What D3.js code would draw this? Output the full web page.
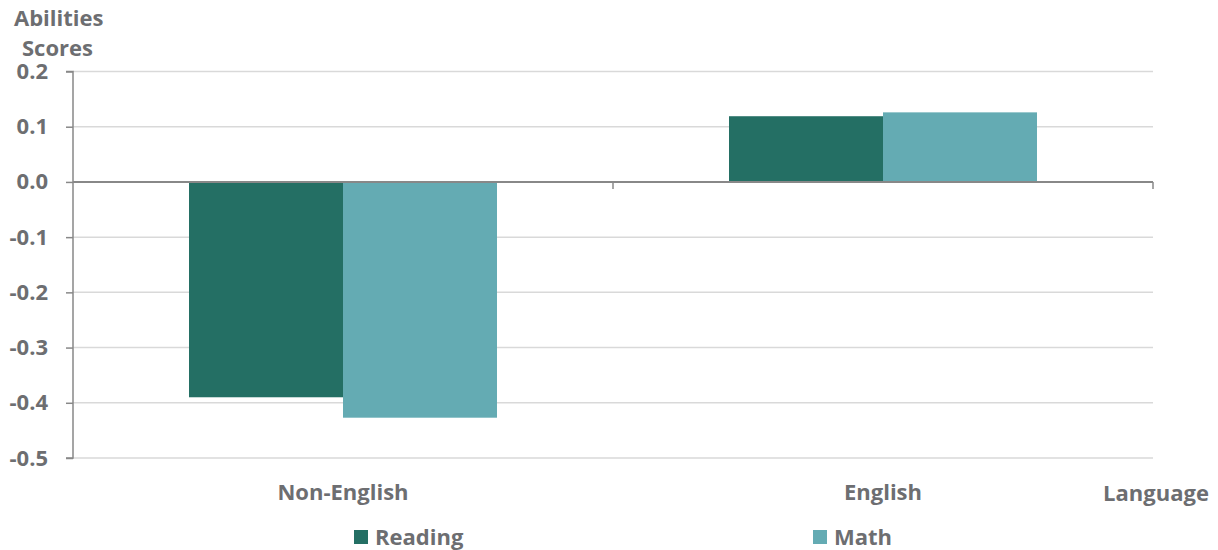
<!DOCTYPE html>
<html><head><meta charset="utf-8">
<script src="https://cdn.jsdelivr.net/npm/d3@7"></script>
<style>body{margin:0;background:#fff}svg{display:block}text{font-family:"Open Sans",sans-serif;font-weight:700;fill:#6d6e71}</style>
</head><body><svg id="c" width="1218" height="550"></svg>
<script>
const categories = ["Non-English", "English"];
const seriesNames = ["Reading", "Math"];
const reading = [-0.39, 0.119];
const math = [-0.427, 0.126];
const yTicks = [0.2, 0.1, 0.0, -0.1, -0.2, -0.3, -0.4, -0.5];
const colors = ["#246f64", "#64abb3"];

const svg = d3.select("#c");
const L = 73, R = 1153, T = 71.5, B = 458;
const x = d3.scaleBand().domain(categories).range([L, R]).paddingInner(0).paddingOuter(0);
const y = d3.scaleLinear().domain([-0.5, 0.2]).range([B, T]);
const barW = 154;
const xs = d3.scaleBand().domain(seriesNames).range([0, barW*2]);

// gridlines
svg.append("g").selectAll("line").data(yTicks.filter(d => d !== 0)).join("line")
  .attr("x1", L).attr("x2", R).attr("y1", d => y(d)).attr("y2", d => y(d))
  .attr("stroke", "#d9d9d9").attr("stroke-width", 1.5);

// bars
const data = [reading, math];
seriesNames.forEach((s, si) => {
  svg.append("g").selectAll("rect").data(categories).join("rect")
    .attr("x", (c) => x(c) + x.bandwidth()/2 - barW + xs(s))
    .attr("width", xs.bandwidth())
    .attr("y", (c, i) => y(Math.max(0, data[si][i])))
    .attr("height", (c, i) => Math.abs(y(data[si][i]) - y(0)))
    .attr("fill", colors[si]);
});

// y axis
const yAxis = d3.axisLeft(y).tickValues(yTicks).tickSize(7).tickFormat(d3.format(".1f"));
const ya = svg.append("g").attr("transform", `translate(${L},0)`).call(yAxis);
ya.select(".domain").attr("stroke", "#888").attr("stroke-width", 1.5).attr("d", `M-7,${T}H0V${B}H-7`);
ya.selectAll(".tick line").attr("stroke", "#888").attr("stroke-width", 1.5);
ya.selectAll(".tick text").attr("x", -25).attr("font-size", 22).attr("fill", "#6d6e71")
  .style("font-family", '"Open Sans",sans-serif').style("font-weight", 700)
  .text(d => d3.format(".1f")(d).replace("−", "-"));

// zero line x axis
const xAxis = d3.axisBottom(x).tickSize(0).tickFormat("");
const xa = svg.append("g").attr("transform", `translate(0,${y(0)})`).call(xAxis);
xa.select(".domain").attr("stroke", "#888").attr("stroke-width", 2).attr("d", `M${L},0H${R}`);
svg.append("g").selectAll("line").data([x.range()[0] + x.step(), R]).join("line")
  .attr("x1", d => d).attr("x2", d => d).attr("y1", y(0)).attr("y2", y(0) + 7)
  .attr("stroke", "#888").attr("stroke-width", 1.5);

// category labels
svg.append("g").selectAll("text").data(categories).join("text")
  .attr("x", d => x(d) + x.bandwidth()/2).attr("y", 500).attr("text-anchor", "middle")
  .attr("font-size", 22).text(d => d);

svg.append("text").attr("x", 1156).attr("y", 501).attr("text-anchor", "middle").attr("font-size", 22).text("Language");
svg.append("text").attr("x", 14).attr("y", 26).attr("font-size", 22).text("Abilities");
svg.append("text").attr("x", 22).attr("y", 56).attr("font-size", 22).text("Scores");

// legend
const legX = [354, 813];
const lg = svg.append("g").selectAll("g").data(seriesNames).join("g")
  .attr("transform", (d, i) => `translate(${legX[i]},530)`);
lg.append("rect").attr("width", 14).attr("height", 14).attr("fill", (d, i) => colors[i]);
lg.append("text").attr("x", 21).attr("y", 15).attr("font-size", 22).text(d => d);
</script></body></html>
